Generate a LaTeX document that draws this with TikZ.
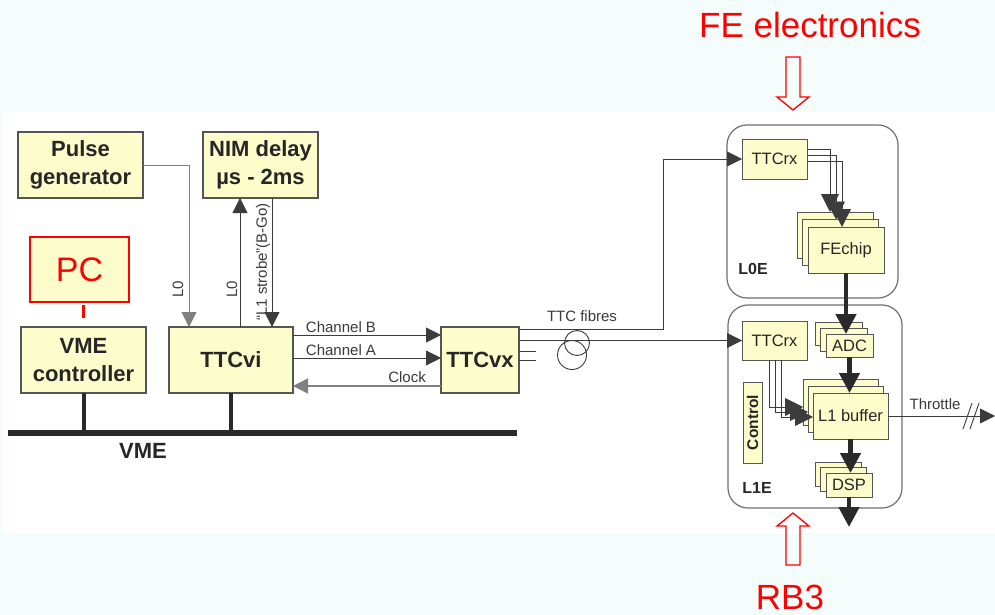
\documentclass[tikz,border=0pt]{standalone}
\usepackage{fontspec}
\setmainfont{Liberation Sans}
\usepackage{xcolor}
\usetikzlibrary{positioning,calc,arrows.meta}
\definecolor{BoxFill}{HTML}{FDFDCC}
\definecolor{BoxEdge}{HTML}{555555}
\definecolor{Wire}{HTML}{3C3C3C}
\definecolor{WireGray}{HTML}{808080}
\definecolor{LabelInk}{HTML}{3A3A3A}
\definecolor{Frame}{HTML}{707070}
\definecolor{BusInk}{HTML}{2A2A2A}
\definecolor{BgTint}{HTML}{F5FCFC}
\definecolor{NoteRed}{HTML}{FF0000}

\begin{document}
\begin{tikzpicture}[x=1pt, y=-1pt,
  unit/.style={draw=BoxEdge, fill=BoxFill, line width=1.1pt, inner sep=0pt, outer sep=0pt, align=center, text=black!85, font=\fontsize{22}{28}\selectfont\bfseries},
  chip/.style={draw=BoxEdge, fill=BoxFill, line width=1pt, inner sep=0pt, outer sep=0pt, text=black!85, font=\fontsize{16.5}{18}\selectfont},
  frame/.style={draw=Frame, line width=1.2pt, rounded corners=20pt, inner sep=0pt, outer sep=0pt},
  tag/.style={font=\fontsize{15}{17}\selectfont, text=LabelInk, inner sep=0pt},
  wire/.style={draw=Wire, line width=0.9pt, -{Triangle[length=15pt,width=15pt]}},
  fanwire/.style={draw=Wire, line width=0.9pt, -{Triangle[length=18pt,width=18pt]}},
  fibre/.style={draw=Wire, line width=0.9pt},
  fat/.style={draw=BusInk, line width=4.5pt, -{Triangle[length=20pt,width=20pt]}},
  bus/.style={draw=BusInk, line width=6pt},
  stub/.style={draw=BusInk, line width=4pt},
  hollow/.style={draw=NoteRed, line width=1.3pt},
  note/.style={text=NoteRed, font=\fontsize{35}{38}\selectfont, inner sep=0pt}]
\useasboundingbox (0,0) rectangle (995,615);
\fill[BgTint] (0,0) rectangle (995,615);
\fill[white] (3,112) rectangle (995,533);

\node[unit, minimum width=125pt, minimum height=66pt] (pulse) at (80.5,165) {Pulse\\generator};
\node[unit, minimum width=115pt, minimum height=66pt] (nim) at (260.5,165) {NIM delay\\µs - 2ms};
\node[unit, draw=NoteRed, minimum width=99pt, minimum height=65pt, font=\fontsize{34}{36}\selectfont, text=NoteRed] (pc) at (79.5,269.5) {PC};
\node[unit, minimum width=125pt, minimum height=66pt] (vmec) at (83.5,360) {VME\\controller};
\node[unit, minimum width=124pt, minimum height=66pt] (ttcvi) at (231,360) {TTCvi};
\node[unit, minimum width=78pt, minimum height=66pt] (ttcvx) at (480,360) {TTCvx};

\draw[NoteRed, line width=3pt] ([yshift=-3pt]pc.south -| vmec.north) -- ([yshift=9pt]vmec.north);

\coordinate (busW) at (8,433);
\coordinate (busE) at (517,433);
\draw[bus] (busW) -- (busE);
\draw[stub] (vmec.south) -- (vmec.south |- busW);
\draw[stub] (ttcvi.south) -- (ttcvi.south |- busW);
\node[font=\fontsize{22}{24}\selectfont\bfseries, text=black!85] (vmetag) at (143,451) {VME};

\draw[wire, draw=WireGray] (pulse.east) -| ([xshift=-42pt]ttcvi.north);
\node[tag, rotate=90] (lzA) at (178,289) {L0};
\coordinate (lzup) at ([xshift=9pt]ttcvi.north);
\draw[wire] (lzup) -- (lzup |- nim.south);
\node[tag, rotate=90] (lzB) at (232,289) {L0};
\coordinate (bgo) at ([xshift=11.5pt]nim.south);
\draw[wire] (bgo) -- (bgo |- ttcvi.north);
\node[tag, rotate=90] (bgotag) at (263,262) {“L1 strobe”(B-Go)};

\draw[wire] (ttcvi.east |- 0,335) -- (ttcvx.west |- 0,335);
\node[tag] (chb) at (341,327) {Channel B};
\draw[wire] (ttcvi.east |- 0,358) -- (ttcvx.west |- 0,358);
\node[tag] (cha) at (341,350) {Channel A};
\draw[wire, draw=WireGray, line width=1.5pt] (ttcvx.west |- 0,386) -- (ttcvi.east |- 0,386);
\node[tag] (clk) at (407,377) {Clock};

\node[frame, minimum width=171pt, minimum height=173pt] (l0e) at (812.5,211.5) {};
\node[frame, minimum width=174pt, minimum height=203pt] (l1e) at (815,406.5) {};
\node[font=\fontsize{16}{18}\selectfont\bfseries, text=black!85] (l0etag) at (753,269) {L0E};
\node[font=\fontsize{16}{18}\selectfont\bfseries, text=black!85] (l1etag) at (757,488) {L1E};

\node[chip, minimum width=65pt, minimum height=40pt] (rxA) at (774.5,159) {TTCrx};
\node[chip, minimum width=65pt, minimum height=39pt] (rxB) at (774.5,340.5) {TTCrx};
\node[chip, rotate=90, minimum width=81pt, minimum height=19pt, font=\fontsize{15.5}{17}\selectfont\bfseries] (ctrl) at (752.5,422.5) {Control};

\node[chip, minimum width=76pt, minimum height=46pt] (feA) at (835,235) {};
\node[chip, minimum width=76pt, minimum height=46pt] (feB) at (840.5,242.5) {};
\node[chip, minimum width=76pt, minimum height=46pt] (feC) at (846,250) {FEchip};

\node[chip, minimum width=47pt, minimum height=23pt] (adcA) at (838.5,333.5) {};
\node[chip, minimum width=47pt, minimum height=23pt] (adcB) at (844,339.5) {};
\node[chip, minimum width=47pt, minimum height=23pt] (adcC) at (849.5,345.5) {ADC};

\node[chip, minimum width=75pt, minimum height=46pt] (bufA) at (840.5,402) {};
\node[chip, minimum width=75pt, minimum height=46pt] (bufB) at (845.5,409) {};
\node[chip, minimum width=75pt, minimum height=46pt] (bufC) at (850.5,416) {L1 buffer};

\node[chip, minimum width=46pt, minimum height=24pt] (dspA) at (838,474) {};
\node[chip, minimum width=46pt, minimum height=24pt] (dspB) at (843.5,479.5) {};
\node[chip, minimum width=46pt, minimum height=24pt] (dspC) at (849,485) {DSP};

\coordinate (fturn) at (663,329);
\draw[wire] (ttcvx.east |- fturn) -- (fturn) |- (rxA.west);
\draw[wire] (ttcvx.east |- rxB.west) -- (rxB.west);
\coordinate (stubA) at (536,351);
\coordinate (stubB) at (536,360);
\draw[fibre] (ttcvx.east |- stubA) -- (stubA);
\draw[fibre] (ttcvx.east |- stubB) -- (stubB);
\draw[fibre] (577,343) circle[radius=12.5];
\draw[fibre] (572,355) circle[radius=14.5];
\node[tag] (ttcf) at (582,316) {TTC fibres};

\draw[fanwire] (rxA.east |- 0,149) -| ([xshift=-5pt]feA.north);
\draw[fanwire] (rxA.east |- 0,155) -| ([xshift=-4.5pt]feB.north);
\draw[fanwire] (rxA.east |- 0,161) -| ([xshift=-4pt]feC.north);

\draw[fanwire] ([xshift=-5.5pt]rxB.south) |- (bufA.west |- 0,407);
\draw[fanwire] ([xshift=0.5pt]rxB.south) |- (bufB.west |- 0,412);
\draw[fanwire] ([xshift=6.5pt]rxB.south) |- (bufC.west |- 0,417);

\draw[fat] (feC.south) -- (feC.south |- adcC.north);
\draw[fat] (adcC.south) -- (adcC.south |- bufC.north);
\draw[fat] (bufC.south) -- (bufC.south |- dspC.north);
\coordinate (l1out) at (849,527);
\draw[fat] (dspC.south) -- (l1out);

\coordinate (thr) at (995,416);
\draw[wire] (bufC.east) -- (thr);
\draw[fibre] (963,429) -- (972,403);
\draw[fibre] (970,429) -- (979,403);
\node[tag] (thrtag) at (935,404) {Throttle};

\draw[hollow] (786,57) -- (800,57) -- (800,97) -- (809,97) -- (793,110) -- (777,97) -- (786,97) -- cycle;
\node[note] (fe) at (810,25) {FE electronics};
\draw[hollow] (786,565) -- (800,565) -- (800,526) -- (809,526) -- (793,513) -- (777,526) -- (786,526) -- cycle;
\node[note] (rb) at (790,597) {RB3};
\end{tikzpicture}
\end{document}
